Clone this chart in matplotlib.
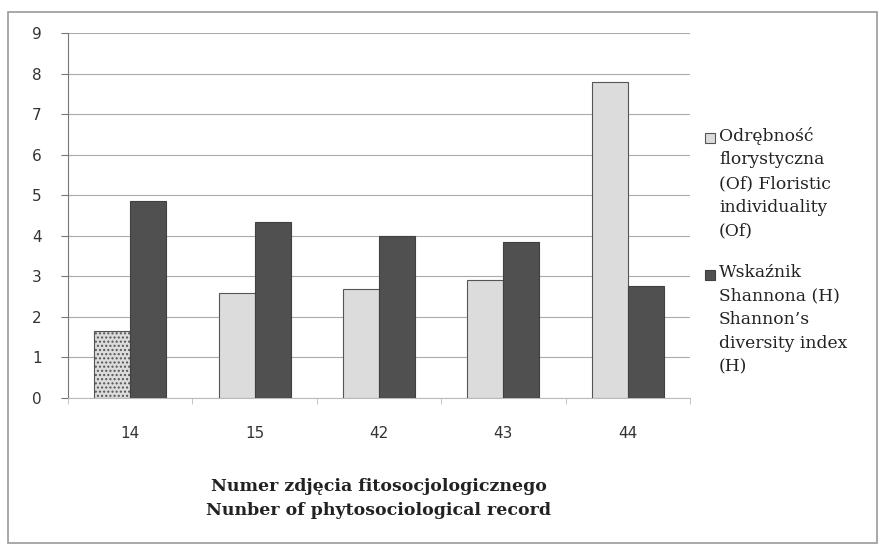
import matplotlib.pyplot as plt
import numpy as np
from matplotlib.patches import Rectangle

records = ["14", "15", "42", "43", "44"]
of_values = [1.65, 2.6, 2.7, 2.9, 7.8]
h_values = [4.85, 4.35, 4.0, 3.85, 2.75]
y_ticks = list(range(0, 10))

of_label = "Odrębność\nflorystyczna\n(Of) Floristic\nindividuality\n(Of)"
h_label = "Wskaźnik\nShannona (H)\nShannon’s\ndiversity index\n(H)"
x_title = "Numer zdjęcia fitosocjologicznego\nNunber of phytosociological record"

W, H = 882, 554
fig = plt.figure(figsize=(W / 100, H / 100), dpi=100)
ax = fig.add_axes([68 / W, 1 - 398 / H, (690 - 68) / W, (398 - 33) / H])

x = np.arange(len(records))
w = 0.29
of_bars = ax.bar(x - w / 2, of_values, w, color="#dcdcdc", edgecolor="#555555", linewidth=0.8, zorder=3)
h_bars = ax.bar(x + w / 2, h_values, w, color="#505050", edgecolor="#404040", linewidth=0.8, zorder=3)
# first bar looks speckled in the scan
of_bars[0].set_hatch("....")

ax.set_ylim(0, 9)
ax.set_xlim(-0.5, len(records) - 0.5)
ax.set_yticks(y_ticks)
ax.set_xticks(x)
ax.set_xticklabels(records)
ax.set_xticks(np.arange(len(records) + 1) - 0.5, minor=True)
ax.tick_params(axis="x", which="major", length=0, pad=20, labelsize=11, colors="#333333")
ax.tick_params(axis="x", which="minor", length=4, color="#bbbbbb")
ax.tick_params(axis="y", length=5, pad=14, labelsize=11, colors="#333333", color="#777777")
ax.grid(axis="y", color="#aaaaaa", linewidth=0.8, zorder=0)
for s in ["top", "right"]:
    ax.spines[s].set_visible(False)
ax.spines["left"].set_color("#777777")
ax.spines["bottom"].set_color("#bbbbbb")

ax.set_xlabel(x_title, fontsize=12.5, fontweight="bold", family="DejaVu Serif",
              labelpad=27, linespacing=1.5, color="#222222")

# legend drawn by hand so the swatch sits on the first line of each entry
legend_items = [(of_label, "#dcdcdc", "#555555", 127), (h_label, "#505050", "#404040", 264)]
for label, fc, ec, top in legend_items:
    fig.patches.append(Rectangle((705 / W, 1 - (top + 16) / H), 10 / W, 10 / H,
                                 transform=fig.transFigure, facecolor=fc, edgecolor=ec, linewidth=0.8))
    fig.text(719 / W, 1 - top / H, label, ha="left", va="top", fontsize=12.3,
             family="DejaVu Serif", linespacing=1.5, color="#222222")

fig.patches.append(Rectangle((8 / W, 11 / H), 869 / W, 531 / H, transform=fig.transFigure,
                             fill=False, edgecolor="#999999", linewidth=1.2))

fig.savefig("out.png", dpi=100)
